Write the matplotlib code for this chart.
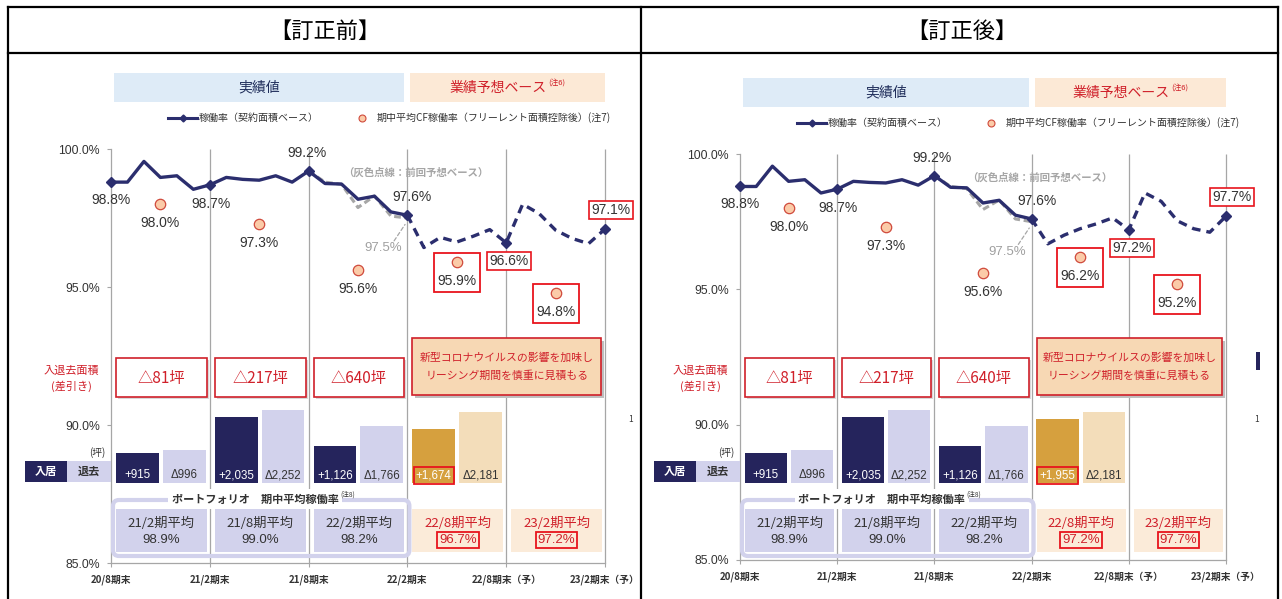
import matplotlib
matplotlib.use('Agg')
import matplotlib.pyplot as plt
from matplotlib.patches import Rectangle, FancyBboxPatch
from matplotlib.lines import Line2D

W, H = 1282, 599
JP = ['Noto Sans CJK JP', 'DejaVu Sans']
NUM = ['Liberation Sans', 'Noto Sans CJK JP', 'DejaVu Sans']
plt.rcParams['font.family'] = JP

# ---- data ----
months = list(range(31))
rate_before = [98.8, 98.8, 99.55, 98.97, 99.03, 98.54, 98.7, 98.97, 98.9, 98.87, 99.03, 98.8,
               99.2, 98.75, 98.73, 98.18, 98.29, 97.72, 97.6, 96.43, 96.8, 96.63, 96.84, 97.08,
               96.6, 98.0, 97.66, 97.06, 96.76, 96.57, 97.1]
rate_after = [98.8, 98.8, 99.55, 98.99, 99.05, 98.56, 98.7, 98.99, 98.95, 98.93, 99.05, 98.85,
              99.2, 98.77, 98.75, 98.19, 98.29, 97.74, 97.6, 96.68, 97.0, 97.24, 97.42, 97.64,
              97.2, 98.56, 98.25, 97.53, 97.24, 97.11, 97.7]
prev_months = [12, 13, 14, 15, 16, 17, 18]
prev_before = [99.2, 98.8, 98.72, 97.88, 98.3, 97.57, 97.5]
prev_after = [99.2, 98.8, 98.72, 97.95, 98.3, 97.6, 97.5]

cf_months = [3, 9, 15, 21, 27]
cf_before = [98.0, 97.3, 95.6, 95.9, 94.8]
cf_after = [98.0, 97.3, 95.6, 96.2, 95.2]

period_months = [0, 6, 12, 18, 24, 30]
period_labels = ['20/8期末', '21/2期末', '21/8期末', '22/2期末', '22/8期末（予）', '23/2期末（予）']

move_in_before = [915, 2035, 1126, 1674]
move_in_after = [915, 2035, 1126, 1955]
move_out = [996, 2252, 1766, 2181]
net_labels = ['△81坪', '△217坪', '△640坪']

avg_labels = ['21/2期平均', '21/8期平均', '22/2期平均', '22/8期平均', '23/2期平均']
avg_before = [98.9, 99.0, 98.2, 96.7, 97.2]
avg_after = [98.9, 99.0, 98.2, 97.2, 97.7]

# ---- colours ----
LINE = '#2B2E6E'
NAVY = '#25245C'
LAV = '#D2D2EC'
GOLD = '#D6A03E'
BEIGE = '#F3DDBA'
RED = '#D0202A'
HL = '#E8141C'
GRID = '#A6A6A6'
TXT = '#333333'

fig = plt.figure(figsize=(W / 100, H / 100), dpi=100)
ov = fig.add_axes([0, 0, 1, 1], zorder=3)
ov.set_xlim(0, W)
ov.set_ylim(H, 0)
ov.axis('off')

PT = 0.72  # points per pixel


def draw_panel(x0, x1, y0, y1, rate, prev, cf, move_in, avg):
    ax = fig.add_axes([x0 / W, 1 - y1 / H, (x1 - x0) / W, (y1 - y0) / H], zorder=1)
    ax.set_xlim(0, 30)
    ax.set_ylim(85, 100)
    ax.patch.set_alpha(0)
    for s in ['top', 'right']:
        ax.spines[s].set_visible(False)
    for s in ['left', 'bottom']:
        ax.spines[s].set_color(GRID)
        ax.spines[s].set_linewidth(0.9)
    ax.set_yticks([85, 90, 95, 100])
    ax.set_yticklabels([f'{v:.1f}%' for v in [85, 90, 95, 100]], family=NUM, fontsize=8.8,
                       color=TXT)
    ax.set_xticks(period_months)
    ax.set_xticklabels(period_labels, fontsize=7, fontweight='bold', color=TXT)
    ax.tick_params(length=3, color=GRID, pad=5)
    ax.vlines(period_months[1:], 85, 100, color=GRID, lw=0.9, zorder=0.5, clip_on=False)

    pxm = (x1 - x0) / 30.0

    def xp(m):
        return x0 + m * pxm

    # previous forecast (gray dashed)
    ax.plot(prev_months, prev, color='#A6A6A6', lw=2.2, ls=(0, (2.2, 1.2)), zorder=2)
    # occupancy line
    ax.plot(months[:19], rate[:19], color=LINE, lw=2.4, zorder=3, clip_on=False)
    ax.plot(months[18:], rate[18:], color=LINE, lw=2.4, ls=(0, (2.6, 1.8)), zorder=3,
            clip_on=False)
    ax.plot(period_months, [rate[m] for m in period_months], ls='none', marker='D',
            ms=5.5, color=LINE, zorder=4, clip_on=False)

    offs = [(0, -18), (1, -19), (-2, 18), (5, 18), (3, -18), (6, 19)]
    for k, m in enumerate(period_months):
        box = None
        if k >= 4:
            box = dict(boxstyle='square,pad=0.15', fc='white', ec=HL, lw=1.2)
        ax.annotate(f'{rate[m]:.1f}%', (m, rate[m]), xytext=(offs[k][0] * PT, offs[k][1] * PT),
                    textcoords='offset points', ha='center', va='center', fontsize=10,
                    family=NUM, color=TXT, bbox=box, zorder=6)

    # gray label 97.5%
    ax.annotate(f'{prev[-1]:.1f}%', (prev_months[-1], prev[-1]), xytext=(-24 * PT, -30 * PT),
                textcoords='offset points', ha='center', va='center', fontsize=9.5,
                family=NUM, color='#A0A0A0', zorder=6)
    ax.annotate('', (prev_months[-1] - 0.05, prev[-1] - 0.15), xytext=(-14 * PT, -21 * PT),
                textcoords='offset points',
                arrowprops=dict(arrowstyle='-', color='#A6A6A6', lw=0.9, ls=(0, (3, 2))))
    ax.annotate('（灰色点線：前回予想ベース）', (18, 100), xytext=(8 * PT, -24 * PT),
                textcoords='offset points', ha='center', va='center', fontsize=7.5,
                fontweight='bold', color='#A6A6A6')

    # CF average points
    ax.plot(cf_months, cf, ls='none', marker='o', ms=7.5, mfc='#FBCBA8', mec='#D04A3C',
            mew=0.9, zorder=5)
    for k, (m, v) in enumerate(zip(cf_months, cf)):
        ax.annotate(f'{v:.1f}%', (m, v), xytext=(0, -19 * PT), textcoords='offset points',
                    ha='center', va='center', fontsize=10, family=NUM, color=TXT, zorder=6)
        if k >= 3:
            yc = y0 + (100 - v) * (y1 - y0) / 15.0
            ov.add_patch(Rectangle((xp(m) - 23, yc - 9), 46, 39, fill=False, ec=HL, lw=1.3))

    # bars on twin axis
    base = 482.5
    scale = 31.0
    ax2 = ax.twinx()
    ax2.set_ylim(-(y1 - base) * scale, (base - y0) * scale)
    ax2.set_axis_off()
    for i in range(4):
        cin = NAVY if i < 3 else GOLD
        cout = LAV if i < 3 else BEIGE
        xi = 6 * i + 1.6
        xo = 6 * i + 4.45
        ax2.bar(xi, move_in[i], width=2.6, color=cin, zorder=2)
        ax2.bar(xo, move_out[i], width=2.6, color=cout, zorder=2)
        box = None
        if i == 3:
            box = dict(boxstyle='square,pad=0.2', fc='none', ec=HL, lw=1.3)
        ax2.annotate(f'+{move_in[i]:,}', (xi, 0), xytext=(0, 7 * PT), textcoords='offset points',
                     ha='center', va='center', fontsize=8.3, family=NUM, color='white', bbox=box)
        ax2.annotate(f'Δ{move_out[i]:,}', (xo, 0), xytext=(0, 7 * PT), textcoords='offset points',
                     ha='center', va='center', fontsize=8.3, family=NUM, color=TXT)

    # ---- overlay (layout) ----
    g = [xp(m) for m in period_months]
    # header row boxes
    ov.add_patch(Rectangle((g[0] + 3, y0 - 76), g[3] - g[0] - 6, 29, fc='#DEEBF7', ec='none'))
    ov.text((g[0] + g[3]) / 2, y0 - 61.5, '実績値', ha='center', va='center', fontsize=10,
            color='#1F2D5A')
    ov.add_patch(Rectangle((g[3] + 3, y0 - 76), g[5] - g[3] - 3, 29, fc='#FCE9D6', ec='none'))
    hx = (g[3] + g[5]) / 2 - 8
    ov.text(hx, y0 - 61.5, '業績予想ベース', ha='center', va='center',
            fontsize=10, color=RED)
    ov.text(hx + 50, y0 - 66, '(注6)', ha='left', va='center', fontsize=5.5, color=RED)
    # legend
    ly = y0 - 31
    ov.add_line(Line2D([x0 + 57, x0 + 86], [ly, ly], color=LINE, lw=2.2))
    ov.plot([x0 + 71.5], [ly], marker='D', ms=3.5, color=LINE)
    ov.text(x0 + 88, ly, '稼働率（契約面積ベース）', ha='left', va='center', fontsize=7.2,
            color=TXT)
    ov.plot([x0 + 251], [ly], marker='o', ms=5, mfc='#FBCBA8', mec='#D04A3C', mew=0.8)
    ov.text(x0 + 266, ly, '期中平均CF稼働率（フリーレント面積控除後）(注7)', ha='left',
            va='center', fontsize=7.2, color=TXT)

    # net area boxes
    ov.text(x0 - 40, 371, '入退去面積', ha='center', va='center', fontsize=8, color=RED)
    ov.text(x0 - 40, 386, '(差引き)', ha='center', va='center', fontsize=8, color=RED)
    for i, lab in enumerate(net_labels):
        bx0, bx1 = g[i] + 5, g[i + 1] - 3
        ov.add_patch(Rectangle((bx0 + 2, 360), bx1 - bx0, 39, fc='#D9D9D9', ec='none'))
        ov.add_patch(Rectangle((bx0, 358), bx1 - bx0, 39, fc='white', ec=RED, lw=1.2))
        ov.text((bx0 + bx1) / 2, 378, lab, ha='center', va='center', fontsize=11, color=RED)
    bx0, bx1 = g[3] + 5, g[5] - 4
    ov.add_patch(Rectangle((bx0 + 3, 341), bx1 - bx0, 57, fc='#BFBFBF', ec='none'))
    ov.add_patch(Rectangle((bx0, 338), bx1 - bx0, 57, fc='#F7D8B4', ec=RED, lw=1.2))
    ov.text((bx0 + bx1) / 2, 358, '新型コロナウイルスの影響を加味し', ha='center',
            va='center', fontsize=7.8, color=RED)
    ov.text((bx0 + bx1) / 2, 376, 'リーシング期間を慎重に見積もる', ha='center',
            va='center', fontsize=7.8, color=RED)

    # move-in / move-out key
    ov.text(x0 - 14, 453, '(坪)', ha='center', va='center', fontsize=7, color=TXT)
    ov.add_patch(Rectangle((x0 - 86, 461), 42, 21, fc=NAVY, ec='none'))
    ov.text(x0 - 65, 471.5, '入居', ha='center', va='center', fontsize=8, fontweight='bold',
            color='white')
    ov.add_patch(Rectangle((x0 - 44, 461), 44, 21, fc=LAV, ec='none'))
    ov.text(x0 - 22, 471.5, '退去', ha='center', va='center', fontsize=8, fontweight='bold',
            color=TXT)

    # portfolio average box
    ov.add_patch(FancyBboxPatch((x0 + 2, 500), g[3] - x0, 56,
                                boxstyle='round,pad=0,rounding_size=6',
                                fill=False, ec=LAV, lw=3))
    tx = (x0 + g[3]) / 2 - 4
    ov.text(tx, 499, 'ポートフォリオ　期中平均稼働率', ha='center', va='center',
            fontsize=8, fontweight='bold', color=TXT,
            bbox=dict(boxstyle='square,pad=0.3', fc='white', ec='none'))
    ov.text(tx + 85, 495, '(注8)', ha='left', va='center', fontsize=4.8, color=TXT)
    for i in range(5):
        cx0, cx1 = g[i] + 5, g[i + 1] - 3
        fc = LAV if i < 3 else '#FBEBD9'
        col = TXT if i < 3 else RED
        ov.add_patch(Rectangle((cx0, 509), cx1 - cx0, 43, fc=fc, ec='none'))
        ov.text((cx0 + cx1) / 2, 523, avg_labels[i], ha='center', va='center', fontsize=9.5,
                color=col)
        box = None
        if i >= 3:
            box = dict(boxstyle='square,pad=0.15', fc='none', ec=HL, lw=1.3)
        ov.text((cx0 + cx1) / 2, 540, f'{avg[i]:.1f}%', ha='center', va='center', fontsize=9.5,
                family=NUM, color=col, bbox=box)
    return ax


draw_panel(111, 605, 149, 563, rate_before, prev_before, cf_before, move_in_before, avg_before)
draw_panel(740, 1226, 154, 560, rate_after, prev_after, cf_after, move_in_after, avg_after)

# table headers and borders
ov.text(325, 31, '【訂正前】', ha='center', va='center', fontsize=16, color='black')
ov.text(962, 31, '【訂正後】', ha='center', va='center', fontsize=16, color='black')
for xv in [8, 641, 1278]:
    ov.add_line(Line2D([xv, xv], [7, H], color='black', lw=1.6))
for yv in [7, 53]:
    ov.add_line(Line2D([8, 1278], [yv, yv], color='black', lw=1.6))

# clipped remnants at the right edge of each panel
ov.text(631, 420, '1', ha='center', va='center', fontsize=6, color=TXT)
ov.text(1257, 420, '1', ha='center', va='center', fontsize=6, color=TXT)
ov.add_patch(Rectangle((1256, 352), 4, 18, fc=NAVY, ec='none'))

fig.savefig('out.png', dpi=100)
